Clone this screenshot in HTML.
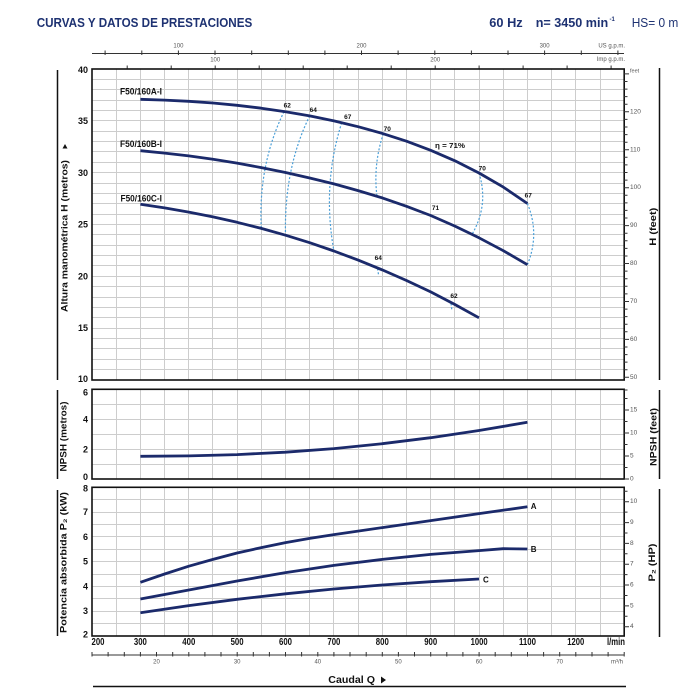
<!DOCTYPE html>
<html><head><meta charset="utf-8"><style>html,body{margin:0;padding:0;background:#fff}svg{display:block}</style></head><body>
<svg width="700" height="700" viewBox="0 0 700 700" xmlns="http://www.w3.org/2000/svg" font-family="'Liberation Sans', sans-serif">
<rect width="700" height="700" fill="#fff"/>
<!-- header -->
<text x="36.7" y="27" font-size="13" font-weight="bold" fill="#1e3272" textLength="215.6" lengthAdjust="spacingAndGlyphs">CURVAS Y DATOS DE PRESTACIONES</text>
<text x="489.3" y="27" font-size="13" font-weight="bold" fill="#1e3272" textLength="33.4" lengthAdjust="spacingAndGlyphs">60 Hz</text>
<text x="535.7" y="27" font-size="13" font-weight="bold" fill="#1e3272" textLength="72.5" lengthAdjust="spacingAndGlyphs">n= 3450 min</text>
<text x="609.5" y="21" font-size="6" font-weight="bold" fill="#1e3272">-1</text>
<text x="631.7" y="27" font-size="13" fill="#1e3272" textLength="46.6" lengthAdjust="spacingAndGlyphs">HS= 0 m</text>

<!-- US gpm axis -->
<path d="M92 53.5H624" stroke="#333" stroke-width="1"/>
<path d="M105.1 50.5V55M141.8 50.5V55M178.4 50.5V55M215 50.5V55M251.7 50.5V55M288.3 50.5V55M324.9 50.5V55M361.5 50.5V55M398.1 50.5V55M434.8 50.5V55M471.4 50.5V55M508 50.5V55M544.6 50.5V55M581.3 50.5V55M617.9 50.5V55" stroke="#333" stroke-width="1"/>
<g font-size="6" fill="#555" text-anchor="middle" dominant-baseline="central">
<text x="178.4" y="46.5">100</text><text x="361.5" y="46.5">200</text><text x="544.6" y="46.5">300</text>
<text x="215.2" y="60.5">100</text><text x="435.2" y="60.5">200</text>
</g>
<g font-size="6" fill="#555" text-anchor="end" dominant-baseline="central">
<text x="625" y="46.7">US g.p.m.</text><text x="625" y="60">Imp g.p.m.</text>
</g>
<path d="M127.2 65.5V69M171.2 65.5V69M215.2 65.5V69M259.2 65.5V69M303.2 65.5V69M347.2 65.5V69M391.2 65.5V69M435.2 65.5V69M479.1 65.5V69M523.1 65.5V69M567.1 65.5V69M611.1 65.5V69" stroke="#333" stroke-width="1"/>
<text x="630" y="71.5" font-size="5.5" fill="#555" dominant-baseline="central">feet</text>

<!-- grids -->
<g stroke="#cdcdcd" stroke-width="1" fill="none">
<path d="M116.5 69V380M140.5 69V380M164.5 69V380M188.5 69V380M212.5 69V380M237.5 69V380M261.5 69V380M285.5 69V380M309.5 69V380M333.5 69V380M358.5 69V380M382.5 69V380M406.5 69V380M430.5 69V380M454.5 69V380M479.5 69V380M503.5 69V380M527.5 69V380M551.5 69V380M575.5 69V380M600.5 69V380"/>
<path d="M92 79.5H624M92 89.5H624M92 100.5H624M92 110.5H624M92 120.5H624M92 131.5H624M92 141.5H624M92 151.5H624M92 162.5H624M92 172.5H624M92 183.5H624M92 193.5H624M92 203.5H624M92 214.5H624M92 224.5H624M92 234.5H624M92 245.5H624M92 255.5H624M92 265.5H624M92 276.5H624M92 286.5H624M92 297.5H624M92 307.5H624M92 317.5H624M92 328.5H624M92 338.5H624M92 348.5H624M92 359.5H624M92 369.5H624"/>
<path d="M116.5 389V479M140.5 389V479M164.5 389V479M188.5 389V479M212.5 389V479M237.5 389V479M261.5 389V479M285.5 389V479M309.5 389V479M333.5 389V479M358.5 389V479M382.5 389V479M406.5 389V479M430.5 389V479M454.5 389V479M479.5 389V479M503.5 389V479M527.5 389V479M551.5 389V479M575.5 389V479M600.5 389V479"/>
<path d="M92 404.5H624M92 419.5H624M92 434.5H624M92 449.5H624M92 464.5H624"/>
<path d="M116.5 487V636M140.5 487V636M164.5 487V636M188.5 487V636M212.5 487V636M237.5 487V636M261.5 487V636M285.5 487V636M309.5 487V636M333.5 487V636M358.5 487V636M382.5 487V636M406.5 487V636M430.5 487V636M454.5 487V636M479.5 487V636M503.5 487V636M527.5 487V636M551.5 487V636M575.5 487V636M600.5 487V636"/>
<path d="M92 499.5H624M92 512.5H624M92 524.5H624M92 536.5H624M92 549.5H624M92 561.5H624M92 574.5H624M92 586.5H624M92 598.5H624M92 611.5H624M92 623.5H624"/>
</g>

<!-- borders -->
<g stroke="#111" stroke-width="1.6" fill="none">
<rect x="92" y="69" width="532.2" height="311"/>
<rect x="92" y="389.3" width="532.2" height="89.7"/>
<rect x="92" y="487.3" width="532.2" height="148.7"/>
</g>

<!-- left numeric labels -->
<g font-size="9" font-weight="bold" fill="#111" text-anchor="end" dominant-baseline="central">
<text x="88" y="70">40</text><text x="88" y="121">35</text><text x="88" y="172.8">30</text><text x="88" y="224.5">25</text><text x="88" y="276.3">20</text><text x="88" y="328.2">15</text><text x="88" y="379">10</text>
<text x="88" y="392.5">6</text><text x="88" y="419.3">4</text><text x="88" y="449.3">2</text><text x="88" y="477">0</text>
<text x="88" y="488.5">8</text><text x="88" y="512.2">7</text><text x="88" y="536.9">6</text><text x="88" y="561.7">5</text><text x="88" y="586.5">4</text><text x="88" y="611.2">3</text><text x="88" y="634.5">2</text>
</g>

<!-- right ticks -->
<g stroke="#333" stroke-width="1">
<path d="M624 377.3H629M624 369.7H627.5M624 362.1H627.5M624 354.6H627.5M624 347H627.5M624 339.4H629M624 331.8H627.5M624 324.2H627.5M624 316.6H627.5M624 309.1H627.5M624 301.5H629M624 293.9H627.5M624 286.3H627.5M624 278.7H627.5M624 271.1H627.5M624 263.5H629M624 256H627.5M624 248.4H627.5M624 240.8H627.5M624 233.2H627.5M624 225.6H629M624 218H627.5M624 210.4H627.5M624 202.9H627.5M624 195.3H627.5M624 187.7H629M624 180.1H627.5M624 172.5H627.5M624 164.9H627.5M624 157.3H627.5M624 149.8H629M624 142.2H627.5M624 134.6H627.5M624 127H627.5M624 119.4H627.5M624 111.8H629M624 104.2H627.5M624 96.6H627.5M624 89.1H627.5M624 81.5H627.5M624 73.9H629"/>
<path d="M624 479H629M624 467.5H627.5M624 456H629M624 444.5H627.5M624 433H629M624 421.5H627.5M624 410H629M624 398.5H627.5M624 390H627.5"/>
<path d="M624 626.7H629M624 616.3H627.5M624 605.9H629M624 595.5H627.5M624 585H629M624 574.6H627.5M624 564.2H629M624 553.8H627.5M624 543.4H629M624 533H627.5M624 522.6H629M624 512.1H627.5M624 501.7H629M624 491.3H627.5"/>
</g>
<g font-size="6.5" fill="#555" dominant-baseline="central">
<text x="630" y="111.8">120</text><text x="630" y="149.8">110</text><text x="630" y="187.7">100</text><text x="630" y="225.6">90</text><text x="630" y="263.5">80</text><text x="630" y="301.5">70</text><text x="630" y="339.4">60</text><text x="630" y="377.3">50</text>
<text x="630" y="479">0</text><text x="630" y="456">5</text><text x="630" y="433">10</text><text x="630" y="410">15</text>
<text x="630" y="626.7">4</text><text x="630" y="605.9">5</text><text x="630" y="585">6</text><text x="630" y="564.2">7</text><text x="630" y="543.4">8</text><text x="630" y="522.6">9</text><text x="630" y="501.7">10</text>
</g>

<!-- side label lines -->
<g stroke="#111" stroke-width="1.5">
<path d="M57.5 70V380M57.5 390V479M57.5 490V636"/>
<path d="M659.5 68V380M659.5 390V479M659.5 489V637"/>
</g>
<g font-size="9.5" font-weight="bold" fill="#111" text-anchor="middle" dominant-baseline="central">
<text transform="translate(65,236) rotate(-90)" textLength="152" lengthAdjust="spacingAndGlyphs">Altura manométrica H  (metros)</text>
<text transform="translate(64,436.5) rotate(-90)" textLength="70" lengthAdjust="spacingAndGlyphs">NPSH  (metros)</text>
<text transform="translate(64,562.5) rotate(-90)" textLength="141" lengthAdjust="spacingAndGlyphs">Potencia absorbida P₂  (kW)</text>
<text transform="translate(653.5,226.7) rotate(-90)" textLength="38" lengthAdjust="spacingAndGlyphs">H (feet)</text>
<text transform="translate(654,437) rotate(-90)" textLength="58" lengthAdjust="spacingAndGlyphs">NPSH  (feet)</text>
<text transform="translate(652.5,562.5) rotate(-90)" textLength="38" lengthAdjust="spacingAndGlyphs">P₂  (HP)</text>
</g>
<polygon points="62.5,148.5 67.5,148.5 65,144" fill="#111"/>

<!-- x axis l/min labels -->
<g font-size="10" font-weight="bold" fill="#111" text-anchor="middle" dominant-baseline="central" lengthAdjust="spacingAndGlyphs">
<text x="98" y="642.3" textLength="13" lengthAdjust="spacingAndGlyphs">200</text>
<text x="140.4" y="642.3" textLength="13" lengthAdjust="spacingAndGlyphs">300</text>
<text x="188.8" y="642.3" textLength="13" lengthAdjust="spacingAndGlyphs">400</text>
<text x="237.1" y="642.3" textLength="13" lengthAdjust="spacingAndGlyphs">500</text>
<text x="285.5" y="642.3" textLength="13" lengthAdjust="spacingAndGlyphs">600</text>
<text x="333.9" y="642.3" textLength="13" lengthAdjust="spacingAndGlyphs">700</text>
<text x="382.3" y="642.3" textLength="13" lengthAdjust="spacingAndGlyphs">800</text>
<text x="430.7" y="642.3" textLength="13" lengthAdjust="spacingAndGlyphs">900</text>
<text x="479.1" y="642.3" textLength="17" lengthAdjust="spacingAndGlyphs">1000</text>
<text x="527.5" y="642.3" textLength="17" lengthAdjust="spacingAndGlyphs">1100</text>
<text x="575.8" y="642.3" textLength="17" lengthAdjust="spacingAndGlyphs">1200</text>
<text x="616" y="642.3" textLength="18" lengthAdjust="spacingAndGlyphs">l/min</text>
</g>

<!-- m3/h axis -->
<path d="M92 655H624.2" stroke="#333" stroke-width="1"/>
<path d="M92 652V656.5M108.1 652V656.5M124.3 652V656.5M140.4 652V656.5M156.5 652V656.5M172.7 652V656.5M188.8 652V656.5M204.9 652V656.5M221 652V656.5M237.2 652V656.5M253.3 652V656.5M269.4 652V656.5M285.5 652V656.5M301.6 652V656.5M317.8 652V656.5M333.9 652V656.5M350 652V656.5M366.2 652V656.5M382.3 652V656.5M398.4 652V656.5M414.5 652V656.5M430.7 652V656.5M446.8 652V656.5M462.9 652V656.5M479.1 652V656.5M495.2 652V656.5M511.3 652V656.5M527.5 652V656.5M543.6 652V656.5M559.7 652V656.5M575.8 652V656.5M592 652V656.5M608.1 652V656.5M624.2 652V656.5" stroke="#333" stroke-width="1"/>
<g font-size="6" fill="#555" text-anchor="middle" dominant-baseline="central">
<text x="156.5" y="662.5">20</text><text x="237.2" y="662.5">30</text><text x="317.8" y="662.5">40</text><text x="398.4" y="662.5">50</text><text x="479.1" y="662.5">60</text><text x="559.7" y="662.5">70</text><text x="617" y="662.5">m³/h</text>
</g>
<text x="328.3" y="680" font-size="10.5" font-weight="bold" fill="#111" dominant-baseline="central" textLength="46.7" lengthAdjust="spacingAndGlyphs">Caudal Q</text>
<polygon points="381,676.5 381,683.5 386,680" fill="#111"/>
<path d="M93 686.5H626" stroke="#111" stroke-width="1.5"/>

<!-- efficiency arcs -->
<g stroke="#4a9fd8" stroke-width="1.2" stroke-dasharray="2,1.8" fill="none">
<path d="M284 111.7 Q258 165 261.3 228.4"/>
<path d="M309.7 115.9 Q284 168 285.5 235.2"/>
<path d="M341.7 122.7 Q322 185 333.9 251"/>
<path d="M383.3 133.7 Q373 165 377 196.3"/>
<path d="M479 173 Q489 205 472 234.4"/>
<path d="M527.4 203.5 Q540 234 527.4 264.7"/>
<path d="M377.5 268.5 L378.5 274.5"/>
<path d="M451 303.5 L452 311"/>
</g>

<!-- head curves -->
<g stroke="#1b2a6b" stroke-width="2.8" fill="none" stroke-linejoin="round" stroke-linecap="butt">
<polyline points="140.4,99.3 164.6,100.1 188.8,101.3 213,103 237.1,105.3 261.3,108.2 285.5,111.7 309.7,115.9 333.9,120.9 358.1,126.7 382.3,133.4 406.5,141.2 430.7,150.3 454.9,160.8 479,173 503.3,187.1 527.4,203.5"/>
<polyline points="140.4,150.7 164.6,153.1 188.8,155.9 213,159.3 237.1,163.1 261.3,167.6 285.5,172.5 309.7,178 333.9,183.9 358.1,190.6 382.3,197.9 406.5,206.3 430.7,215.5 454.9,226.1 479,237.8 503.3,250.7 527.4,264.7"/>
<polyline points="140.4,204.3 164.6,207.9 188.8,212.1 213,216.9 237.1,222.3 261.3,228.4 285.5,235.2 309.7,242.7 333.9,251 358.1,260.1 382.3,269.9 406.5,280.5 430.7,291.9 454.9,304.5 479,317.8"/>
<polyline points="140.4,456.3 188.8,455.9 237.1,454.6 285.5,452.2 333.9,448.6 382.3,443.7 430.7,437.7 479,430.5 527.4,422.3"/>
<polyline points="140.4,582.3 164.6,574 188.8,566.2 213,559.4 237.1,553 261.3,547.6 285.5,542.6 309.7,538.4 333.9,534.6 382.3,527.6 430.7,520.6 479,513.6 527.4,506.8"/>
<polyline points="140.4,599 188.8,590 237.1,581 285.5,572.6 333.9,565.4 382.3,559.4 430.7,554.4 479,550.6 503.2,548.7 527.4,549"/>
<polyline points="140.4,612.8 188.8,605.6 237.1,599.3 285.5,593.8 333.9,589 382.3,585 430.7,581.7 479,579"/>
</g>

<!-- curve labels -->
<g font-size="9" font-weight="bold" fill="#111" dominant-baseline="central">
<text x="120" y="91.7" textLength="42" lengthAdjust="spacingAndGlyphs">F50/160A-I</text>
<text x="120" y="144" textLength="42" lengthAdjust="spacingAndGlyphs">F50/160B-I</text>
<text x="120.5" y="198.3" textLength="41.5" lengthAdjust="spacingAndGlyphs">F50/160C-I</text>
</g>
<g font-size="6.5" font-weight="bold" fill="#111" text-anchor="middle" dominant-baseline="central">
<text x="287.3" y="106">62</text><text x="313.3" y="110.7">64</text><text x="347.7" y="117.7">67</text><text x="387.3" y="129.3">70</text>
<text x="482.3" y="169">70</text><text x="528.3" y="196">67</text><text x="435.5" y="208.5">71</text>
<text x="378.3" y="258.3">64</text><text x="454" y="296.7">62</text>
</g>
<text x="435" y="146.5" font-size="7" font-weight="bold" fill="#111" dominant-baseline="central" textLength="30" lengthAdjust="spacingAndGlyphs">η = 71%</text>
<g font-size="8" font-weight="bold" fill="#111" dominant-baseline="central">
<text x="530.8" y="506.7">A</text><text x="530.8" y="549.3">B</text><text x="483" y="580">C</text>
</g>
</svg>
</body></html>
